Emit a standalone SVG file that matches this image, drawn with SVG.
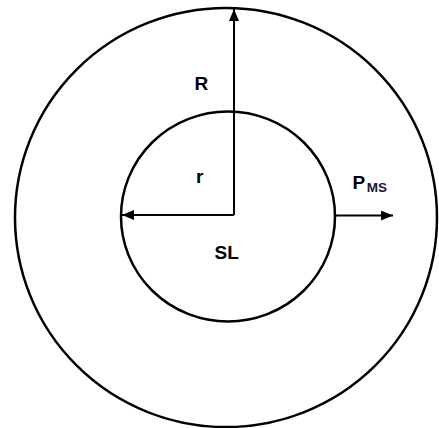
<svg xmlns="http://www.w3.org/2000/svg" width="439" height="428" viewBox="0 0 439 428">
<style>
.circ{fill:none;stroke:#000;stroke-width:2.5}
.arr{fill:none;stroke:#000;stroke-width:2;marker-end:url(#ah)}
.lbl{font-family:"Liberation Sans",Arial,sans-serif;font-weight:bold;fill:#000}
</style>
<defs>
<marker id="ah" viewBox="0 0 12 10" refX="12" refY="5" markerWidth="12" markerHeight="10" markerUnits="userSpaceOnUse" orient="auto">
<path d="M0,0 L12,5 L0,10 Z" fill="#000"/>
</marker>
</defs>
<rect width="439" height="428" fill="#fff"/>
<g id="outer"><ellipse class="circ" cx="226" cy="217.5" rx="211" ry="209.5"/></g>
<g id="inner"><ellipse class="circ" cx="228" cy="216.5" rx="107" ry="105"/></g>
<g id="connectors">
<line class="arr" x1="234" y1="215" x2="234" y2="9"/>
<line class="arr" x1="234" y1="215" x2="122" y2="215"/>
<line class="arr" x1="335" y1="215.5" x2="393" y2="215.5"/>
</g>
<g id="labels">
<text class="lbl" x="194.5" y="90" font-size="19">R</text>
<text class="lbl" x="196" y="183" font-size="19">r</text>
<text class="lbl" x="214.5" y="259" font-size="19">SL</text>
<text class="lbl" x="352.5" y="188.5" font-size="19">P<tspan font-size="13.5" dx="1.5" dy="3.5" fill="#141b3a">MS</tspan></text>
</g>
</svg>
